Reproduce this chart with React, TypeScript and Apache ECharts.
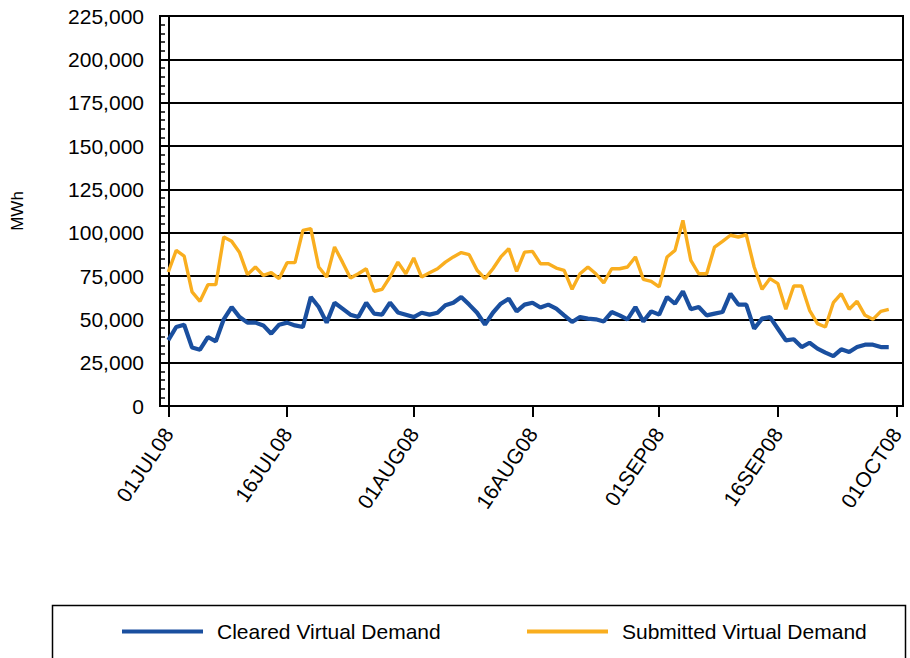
import React, { useEffect, useRef } from "react";
import * as echarts from "echarts";

const seriesNames = ["Cleared Virtual Demand", "Submitted Virtual Demand"];

// Daily values, 01JUL08 .. 30SEP08 (day index 0..91)
const cleared = [
  38000, 45600, 46900, 33700, 32500, 39800, 37300, 50000, 57100, 51300,
  48100, 48100, 46500, 41700, 46900, 48100, 46500, 45600, 62900, 57100,
  48100, 59600, 56200, 52700, 51300, 59600, 53300, 52700, 59600, 54000,
  52700, 51300, 53800, 52700, 53800, 58100, 59600, 62900, 58500, 53800,
  46900, 53800, 59000, 61900, 54600, 58500, 59600, 56800, 58500, 56200,
  52300, 48500, 51300, 50400, 50000, 48800, 54200, 52300, 50000, 57100,
  48800, 54600, 52700, 62900, 59000, 66200, 55800, 57100, 52300, 53300,
  54200, 64800, 58500, 58500, 44600, 50400, 51300, 44600, 37900, 38500,
  34000, 36500, 33100, 30800, 28800, 32700, 31200, 34000, 35400, 35400,
  34000, 34000,
];

const submitted = [
  77300, 89800, 86500, 65800, 60400, 70000, 70000, 97500, 95000, 88500,
  75800, 80200, 75400, 77000, 73500, 82700, 82700, 101300, 102300, 80200,
  74400, 91700, 83000, 73800, 76300, 79200, 66200, 67300, 74400, 83000,
  76300, 85400, 74400, 76900, 79200, 83000, 86000, 88500, 87300, 78300,
  73500, 79200, 86000, 90800, 77700, 88800, 89200, 82100, 82100, 79600,
  78300, 67300, 76300, 80200, 76300, 71000, 79200, 79200, 80200, 86000,
  73100, 71900, 68700, 86000, 89800, 107100, 84000, 76300, 76300, 91700,
  95000, 98500, 97500, 98800, 80200, 67300, 73500, 70600, 55800, 69200,
  69200, 55200, 47500, 45600, 59600, 64800, 55800, 60400, 52300, 50000,
  54600, 55800,
];

// Tick labels and their day index (days since 01JUL08)
const tickLabels = ["01JUL08", "16JUL08", "01AUG08", "16AUG08", "01SEP08", "16SEP08", "01OCT08"];
const tickDays = [0, 15, 31, 46, 62, 77, 92];

const yTicks = [0, 25000, 50000, 75000, 100000, 125000, 150000, 175000, 200000, 225000];

const FONT = "'Liberation Sans', Arial, Helvetica, sans-serif";
const BLUE = "#1A4F9F";
const ORANGE = "#F9AE1F";

export default function App() {
  const ref = useRef<HTMLDivElement>(null);

  useEffect(() => {
    document.body.style.margin = "0";
    if (!ref.current) return;
    const chart = echarts.init(ref.current, undefined, { renderer: "svg" });

    const toPairs = (arr: number[]) => arr.map((v, i) => [i, v]);
    const yMin = yTicks[0];
    const yMax = yTicks[yTicks.length - 1];
    const yStep = yTicks[1] - yTicks[0];

    chart.setOption({
      animation: false,
      backgroundColor: "#fff",
      textStyle: { fontFamily: FONT },
      grid: {
        left: 160,
        right: 7,
        top: 16,
        bottom: 252,
        show: true,
        borderColor: "#000",
        borderWidth: 2,
        backgroundColor: "transparent",
      },
      xAxis: {
        type: "value",
        min: -1.05,
        max: 92.8,
        axisLine: { show: true, onZero: false, lineStyle: { color: "#000", width: 2 } },
        axisTick: {
          show: true,
          customValues: tickDays,
          length: 11,
          lineStyle: { color: "#000", width: 2 },
        },
        axisLabel: {
          show: true,
          customValues: tickDays,
          rotate: 56,
          margin: 24,
          fontSize: 21,
          color: "#000",
          fontFamily: FONT,
          formatter: (v: number) => {
            const idx = tickDays.indexOf(Math.round(v));
            return idx >= 0 ? tickLabels[idx] : "";
          },
        },
        splitLine: { show: false },
      },
      yAxis: [
        {
          type: "value",
          min: yMin,
          max: yMax,
          interval: yStep,
          position: "left",
          name: "MWh",
          nameLocation: "middle",
          nameGap: 134,
          nameRotate: 90,
          nameTextStyle: { fontSize: 17, color: "#000", fontFamily: FONT },
          axisLine: { show: true, lineStyle: { color: "#000", width: 2 } },
          axisTick: { show: true, length: 8, lineStyle: { color: "#000", width: 2 } },
          axisLabel: {
            margin: 16,
            fontSize: 21,
            color: "#000",
            fontFamily: FONT,
            formatter: (v: number) => v.toLocaleString("en-US"),
          },
          splitLine: { show: true, lineStyle: { color: "#000", width: 2 } },
        },
        {
          type: "value",
          min: yMin,
          max: yMax,
          interval: yStep,
          position: "left",
          axisLine: { show: false },
          axisTick: { show: false, inside: true },
          axisLabel: { show: false },
          splitLine: { show: false },
          minorTick: {
            show: true,
            splitNumber: 5,
            length: 5,
            lineStyle: { color: "#000", width: 1.5 },
          },
        },
      ],
      legend: [
        {
          data: [seriesNames[0]],
          left: 117,
          top: 616,
          icon: "rect",
          itemWidth: 81,
          itemHeight: 4,
          textStyle: { fontSize: 21, color: "#000", fontFamily: FONT, padding: [0, 0, 0, 9] },
        },
        {
          data: [seriesNames[1]],
          left: 522,
          top: 616,
          icon: "rect",
          itemWidth: 81,
          itemHeight: 4,
          textStyle: { fontSize: 21, color: "#000", fontFamily: FONT, padding: [0, 0, 0, 9] },
        },
      ],
      graphic: [
        {
          type: "rect",
          left: 50,
          top: 603,
          shape: { width: 853, height: 70 },
          style: { fill: "none", stroke: "#000", lineWidth: 1.5 },
          silent: true,
        },
      ],
      series: [
        {
          name: seriesNames[1],
          type: "line",
          data: toPairs(submitted),
          showSymbol: false,
          symbol: "none",
          lineStyle: { color: ORANGE, width: 3.4 },
          itemStyle: { color: ORANGE },
          z: 3,
        },
        {
          name: seriesNames[0],
          type: "line",
          data: toPairs(cleared),
          showSymbol: false,
          symbol: "none",
          lineStyle: { color: BLUE, width: 4.2 },
          itemStyle: { color: BLUE },
          z: 4,
        },
      ],
    });

    return () => chart.dispose();
  }, []);

  return <div ref={ref} style={{ width: 910, height: 658 }} />;
}
